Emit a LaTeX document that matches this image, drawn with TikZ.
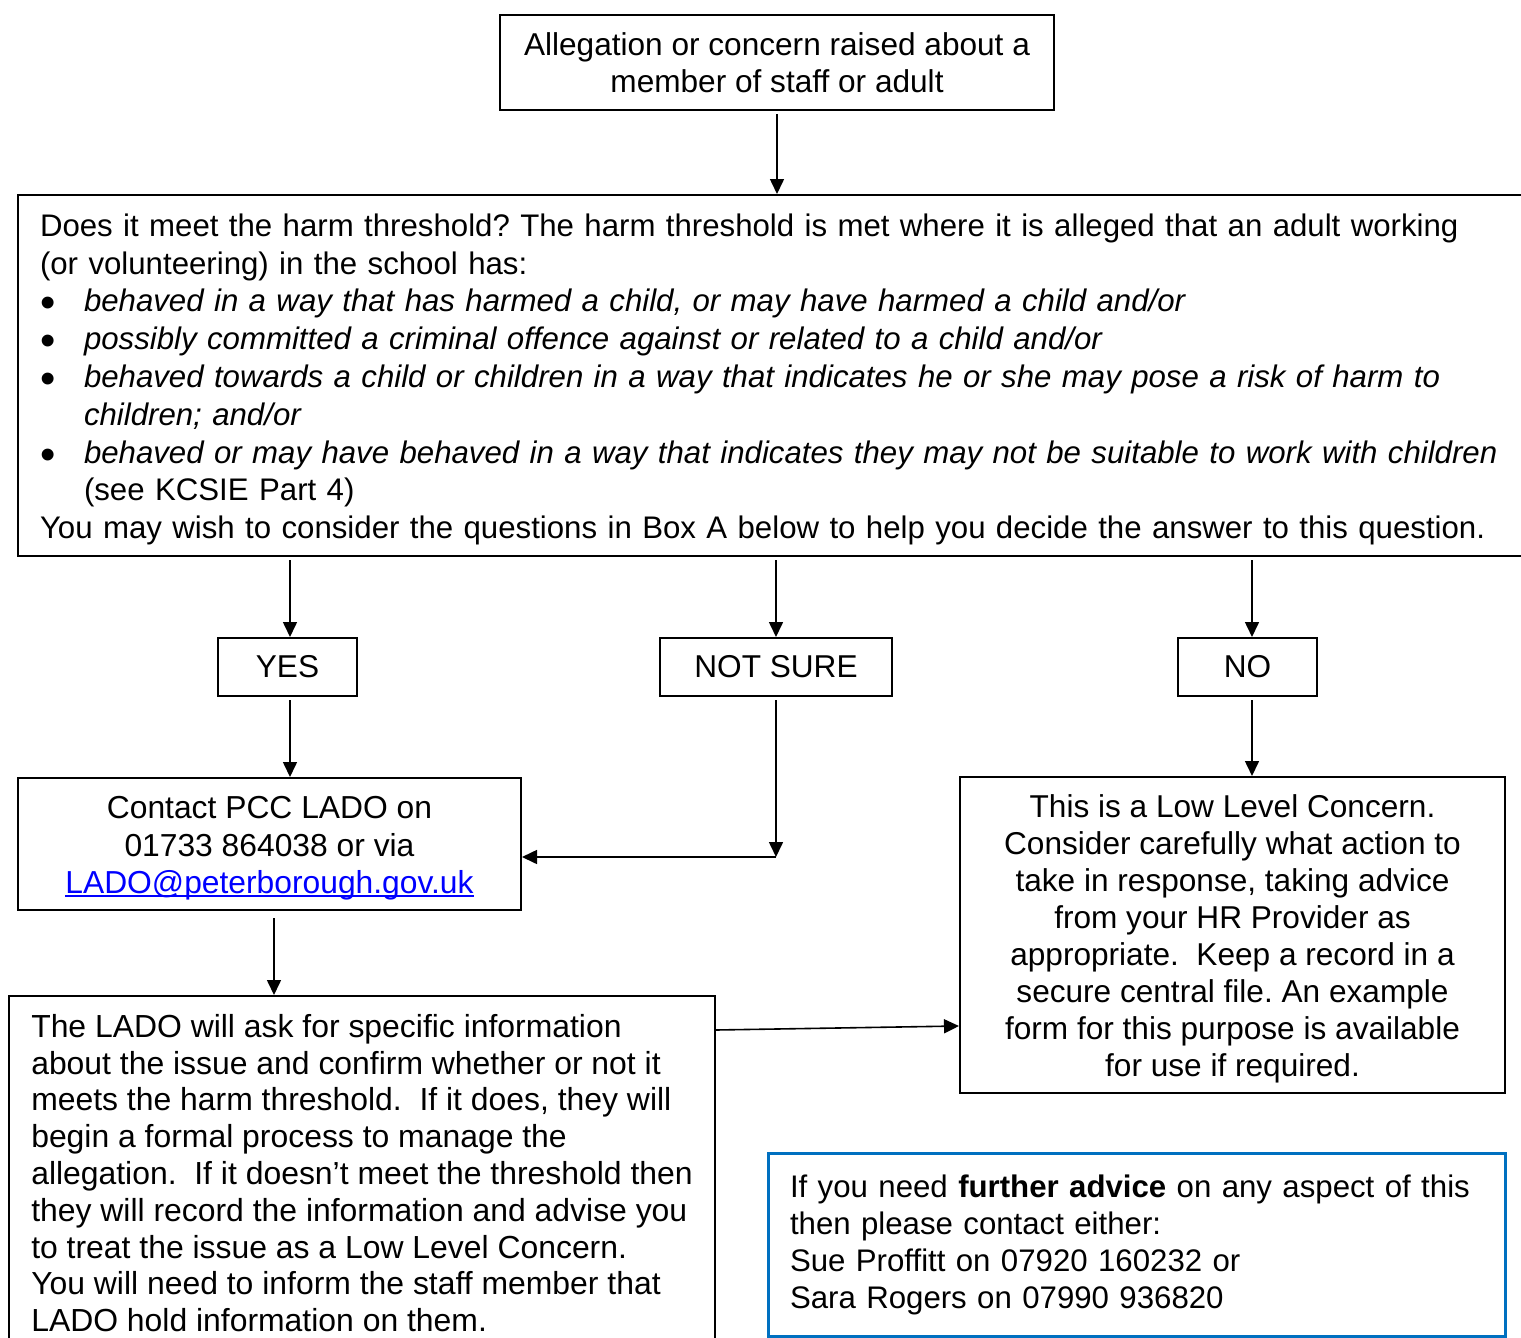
\documentclass[tikz,border=0pt]{standalone}
\usepackage{fontspec}
\setmainfont[Ligatures=CommonOff]{Liberation Sans}
\usetikzlibrary{arrows.meta,calc}
\definecolor{bluebox}{RGB}{0,112,192}
\definecolor{linkblue}{RGB}{0,0,255}
\newcommand\lnk[1]{\setbox0=\hbox{#1}\rlap{\rule[-1.7pt]{\wd0}{0.8pt}}\box0}
\newcommand\bul{\makebox[22pt][l]{\raisebox{-3pt}{\scalebox{1.4}{\textbullet}}}}
\newcommand\ind{\hspace*{22pt}}
\newcommand\topstrut{\rule{0pt}{15.3pt}}
\begin{document}
\begin{tikzpicture}[x=0.5pt,y=-0.5pt,
  box/.style={draw=black,line width=1pt,inner sep=0pt,
    font=\fontsize{15.8pt}{18.5pt}\selectfont\frenchspacing},
  arr/.style={line width=0.8pt,shorten <=1.5pt,-{Triangle[length=7.5pt,width=7pt]}}]
\useasboundingbox (0,0) rectangle (1521,1338);
\clip (0,0) rectangle (1521,1338);

\node[box,minimum width=277pt,minimum height=47.5pt,align=center] (top) at (777,63)
  {Allegation or concern raised about a\\member of staff or adult};

\node[box,minimum width=761pt,minimum height=180.5pt,text width=739pt,align=left,
  font=\fontsize{15.6pt}{18.9pt}\selectfont\frenchspacing] (big) at (779,375.5)
  {\topstrut Does it meet the harm threshold? The harm threshold is met where it is alleged that an adult working\\
   (or volunteering) in the school has:\\
   \bul\textit{behaved in a way that has harmed a child, or may have harmed a child and/or}\\
   \bul\textit{possibly committed a criminal offence against or related to a child and/or}\\
   \bul\textit{behaved towards a child or children in a way that indicates he or she may pose a risk of harm to}\\
   \ind\textit{children; and/or}\\
   \bul\textit{behaved or may have behaved in a way that indicates they may not be suitable to work with children}\\
   \ind(see KCSIE Part 4)\\
   You may wish to consider the questions in Box A below to help you decide the answer to this question.};

\node[box,minimum width=69.5pt,minimum height=29pt] (yes) at (287.5,667) {YES};
\node[box,minimum width=116pt,minimum height=29pt] (notsure) at (776,667) {NOT SURE};
\node[box,minimum width=69.5pt,minimum height=29pt] (no) at (1247.5,667) {NO};

\node[box,minimum width=251.5pt,minimum height=66pt,align=center,
  font=\fontsize{15.9pt}{18.75pt}\selectfont] (contact) at (269.5,844)
  {\topstrut Contact PCC LADO on\\01733 864038 or via\\{\color{linkblue}\lnk{LADO@peterborough.gov.uk}}};

\node[box,minimum width=272.5pt,minimum height=158pt,align=center,
  font=\fontsize{15.8pt}{18.45pt}\selectfont\frenchspacing] (low) at (1232.5,935)
  {\topstrut This is a Low Level Concern.\\
   Consider carefully what action to\\
   take in response, taking advice\\
   from your HR Provider as\\
   appropriate.~ Keep a record in a\\
   secure central file. An example\\
   form for this purpose is available\\
   for use if required.};

\node[box,minimum width=353pt,minimum height=177pt,align=left,
  font=\fontsize{15.95pt}{18.4pt}\selectfont\frenchspacing] (lado) at (362,1173)
  {The LADO will ask for specific information\\
   about the issue and confirm whether or not it\\
   meets the harm threshold.~ If it does, they will\\
   begin a formal process to manage the\\
   allegation.~ If it doesn’t meet the threshold then\\
   they will record the information and advise you\\
   to treat the issue as a Low Level Concern.\\
   You will need to inform the staff member that\\
   LADO hold information on them.};

\node[box,draw=bluebox,line width=1.5pt,minimum width=368.5pt,minimum height=91.5pt,
  text width=346.5pt,align=left,
  font=\fontsize{15.6pt}{18.5pt}\selectfont\frenchspacing] (advice) at (1136.5,1244.5)
  {If you need \textbf{further advice} on any aspect of this\\
   then please contact either:\\
   Sue Proffitt on 07920 160232 or\\
   Sara Rogers on 07990 936820};

\coordinate (ns) at (776,857);

\draw[arr] (top.south) -- (top.south |- big.north);
\draw[arr] ([xshift=1.25pt]yes.north |- big.south) -- ([xshift=1.25pt]yes.north);
\draw[arr] (notsure.north |- big.south) -- (notsure.north);
\draw[arr] ([xshift=2.25pt]no.north |- big.south) -- ([xshift=2.25pt]no.north);
\draw[arr] ([xshift=1.25pt]yes.south) -- ([xshift=1.25pt]yes.south |- contact.north);
\draw[arr] (notsure.south) -- (ns);
\draw[arr,shorten <=0pt] (ns) -- (contact.east |- ns);
\draw[arr] ([xshift=2.25pt]no.south) -- ([xshift=2.25pt]no.south |- low.north);
\draw[arr] ([xshift=2.25pt,yshift=-2pt]contact.south) -- ([xshift=2.25pt]contact.south |- lado.north);
\draw[arr,shorten <=0pt] ($(lado.north east)+(0,35)$) -- ($(low.north west)+(0,250)$);
\end{tikzpicture}
\end{document}
